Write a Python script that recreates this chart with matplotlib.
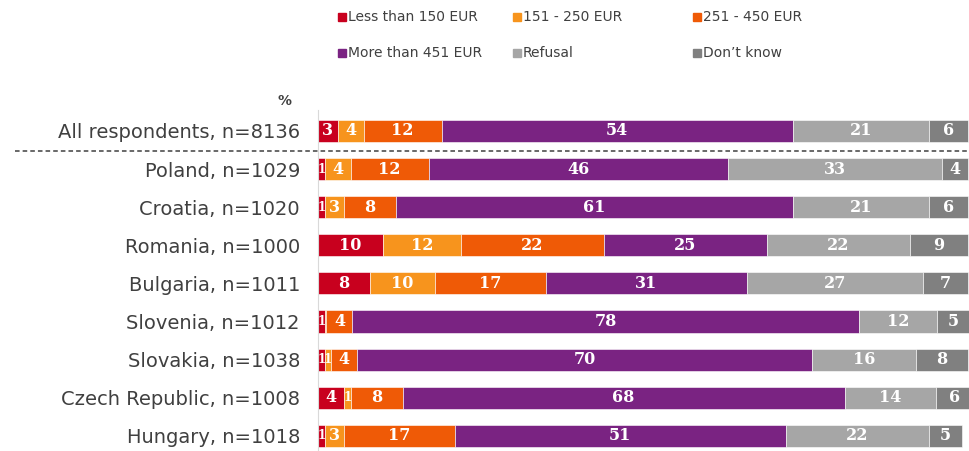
import matplotlib.pyplot as plt
from matplotlib.patches import Rectangle

# data (%)
categories = ["All respondents, n=8136", "Poland, n=1029", "Croatia, n=1020",
              "Romania, n=1000", "Bulgaria, n=1011", "Slovenia, n=1012",
              "Slovakia, n=1038", "Czech Republic, n=1008", "Hungary, n=1018"]
series_names = ["Less than 150 EUR", "151 - 250 EUR", "251 - 450 EUR",
                "More than 451 EUR", "Refusal", "Don\u2019t know"]
less_150 = [3, 1, 1, 10, 8, 1, 1, 4, 1]
eur_151_250 = [4, 4, 3, 12, 10, 0.3, 1, 1, 3]
eur_251_450 = [12, 12, 8, 22, 17, 4, 4, 8, 17]
more_451 = [54, 46, 61, 25, 31, 78, 70, 68, 51]
refusal = [21, 33, 21, 22, 27, 12, 16, 14, 22]
dont_know = [6, 4, 6, 9, 7, 5, 8, 6, 5]

series = [less_150, eur_151_250, eur_251_450, more_451, refusal, dont_know]
colors = ["#C8001E", "#F7941D", "#EF5A06", "#7A2382", "#A6A6A6", "#808080"]

fig = plt.figure(figsize=(9.7, 4.51), dpi=100)
ax = fig.add_axes([318 / 970, 0, 652 / 970, 1 - 110 / 451])

y = list(range(len(categories)))
left = [0] * len(categories)
for vals, col in zip(series, colors):
    bars = ax.barh(y, vals, left=left, height=0.58, color=col,
                   edgecolor="white", linewidth=0.4)
    for b, v in zip(bars, vals):
        if v >= 1:
            # tiny segments get a smaller label so neighbours don't collide
            fs = 8.5 if b.get_width() < 1.5 else 11.5
            ax.text(b.get_x() + b.get_width() / 2, b.get_y() + b.get_height() / 2,
                    f"{v:g}", ha="center", va="center", color="white",
                    fontsize=fs, fontweight="bold", family="DejaVu Serif")
    left = [l + v for l, v in zip(left, vals)]

ax.set_xlim(0, 100.3)
ax.set_ylim(8.4, -0.55)
ax.set_yticks(y)
ax.set_yticklabels(categories, fontsize=14, color="#404040")
ax.tick_params(axis="y", length=0, pad=13)
ax.set_xticks([])
for s in ["top", "right", "bottom"]:
    ax.spines[s].set_visible(False)
ax.spines["left"].set_color("#D9D9D9")

# separator between total and countries
fig.add_artist(plt.Line2D([15 / 970, 968 / 970], [1 - 151 / 451] * 2,
                          color="#404040", linestyle=(0, (3, 2)), linewidth=1.1))
fig.text(284 / 970, 1 - 101 / 451, "%", fontsize=10, fontweight="bold",
         color="#404040", ha="center", va="center")

# legend
leg_x = [342, 517, 697]
leg_y = [17, 53]
for i, (name, col) in enumerate(zip(series_names, colors)):
    px = leg_x[i % 3]
    py = leg_y[i // 3]
    fig.add_artist(Rectangle((px / 970 - 4 / 970, 1 - (py + 4) / 451), 8 / 970, 8 / 451,
                             transform=fig.transFigure, color=col))
    fig.text((px + 6) / 970, 1 - py / 451, name, fontsize=10, color="#404040",
             ha="left", va="center")

fig.savefig("out.png", dpi=100)
